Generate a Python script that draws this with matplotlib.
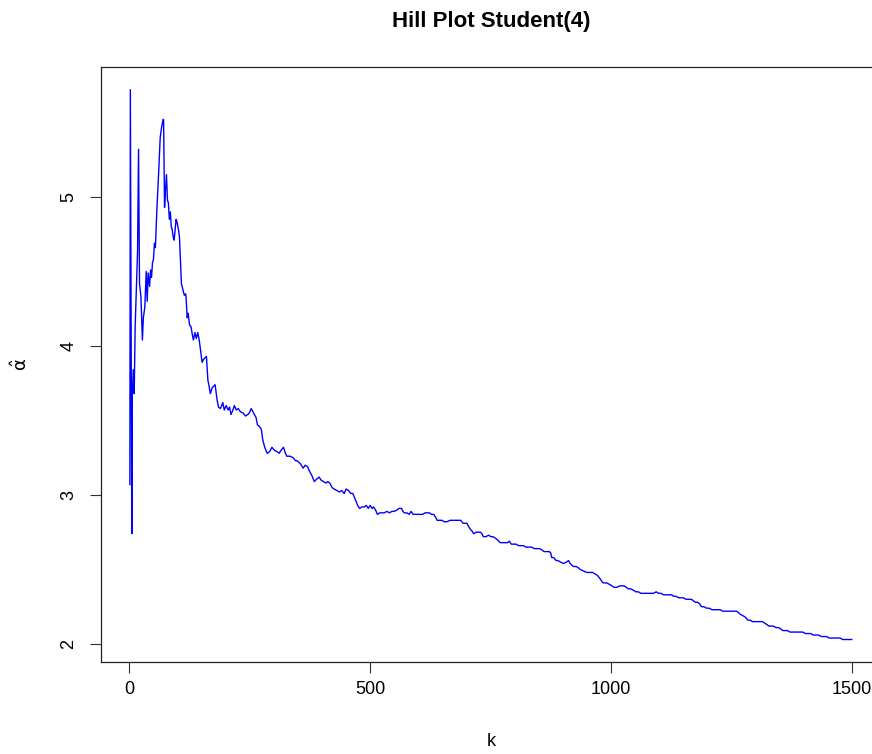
import matplotlib
matplotlib.use("Agg")
import matplotlib.pyplot as plt

# Hill plot of a Student(4) sample: k vs alpha-hat
k_vals = [
    1, 2, 5, 6, 8, 10, 12, 15, 17, 19, 21, 24, 27, 29, 32, 35, 37, 39, 42, 44,
    46, 48, 50, 52, 54, 57, 61, 64, 67, 70, 71, 73, 75, 77, 79, 81, 83, 85, 87, 89,
    91, 93, 95, 97, 99, 102, 104, 106, 108, 111, 114, 117, 118, 120, 122, 125, 128, 131, 133, 136,
    139, 142, 145, 147, 151, 154, 160, 163, 165, 168, 172, 178, 182, 185, 189, 194, 197, 201, 205, 208,
    211, 215, 218, 222, 226, 230, 236, 241, 246, 249, 253, 258, 263, 266, 270, 274, 277, 281, 286, 291,
    296, 301, 307, 311, 315, 320, 324, 327, 334, 340, 345, 348, 355, 361, 365, 370, 374, 379, 384, 390,
    394, 398, 403, 408, 412, 416, 421, 425, 431, 436, 441, 446, 450, 455, 460, 464, 469, 474, 478, 483,
    488, 492, 496, 500, 504, 507, 511, 515, 520, 524, 529, 535, 540, 545, 550, 556, 560, 565, 568, 571,
    576, 581, 585, 589, 594, 598, 604, 609, 614, 619, 623, 627, 632, 636, 639, 643, 649, 654, 659, 666,
    673, 680, 684, 688, 693, 697, 701, 704, 708, 711, 715, 720, 725, 729, 732, 735, 740, 746, 751, 755,
    760, 764, 770, 776, 780, 785, 789, 793, 798, 803, 808, 813, 818, 824, 830, 835, 841, 846, 852, 857,
    861, 867, 872, 875, 877, 881, 886, 890, 895, 901, 908, 912, 915, 922, 928, 933, 936, 943, 950, 957,
    962, 967, 972, 977, 981, 984, 991, 997, 1002, 1007, 1012, 1018, 1023, 1027, 1032, 1036, 1041, 1047, 1052, 1057,
    1062, 1067, 1073, 1078, 1083, 1088, 1094, 1099, 1104, 1109, 1115, 1120, 1126, 1130, 1135, 1141, 1146, 1150, 1156, 1162,
    1167, 1171, 1175, 1180, 1184, 1188, 1193, 1199, 1204, 1210, 1216, 1221, 1227, 1232, 1238, 1243, 1249, 1254, 1261, 1265,
    1268, 1274, 1279, 1282, 1284, 1289, 1294, 1299, 1304, 1310, 1315, 1319, 1324, 1328, 1332, 1337, 1343, 1348, 1353, 1357,
    1362, 1366, 1372, 1377, 1382, 1387, 1393, 1398, 1404, 1409, 1415, 1420, 1426, 1431, 1437, 1442, 1448, 1453, 1459, 1465,
    1470, 1476, 1481, 1486, 1492, 1500,
]
alpha_hat = [
    3.07, 5.72, 2.74, 3.66, 3.84, 3.68, 4.13, 4.43, 4.64, 5.32, 4.42, 4.33, 4.04, 4.19, 4.26, 4.50, 4.30, 4.49, 4.40, 4.51,
    4.46, 4.56, 4.58, 4.69, 4.66, 4.91, 5.18, 5.40, 5.47, 5.52, 5.52, 4.93, 5.05, 5.15, 4.98, 4.96, 4.85, 4.90, 4.80, 4.78,
    4.73, 4.71, 4.78, 4.85, 4.83, 4.78, 4.73, 4.58, 4.42, 4.38, 4.34, 4.35, 4.31, 4.19, 4.22, 4.14, 4.13, 4.07, 4.04, 4.09,
    4.05, 4.09, 4.04, 3.99, 3.89, 3.91, 3.93, 3.77, 3.74, 3.68, 3.72, 3.74, 3.64, 3.59, 3.58, 3.62, 3.57, 3.60, 3.57, 3.59,
    3.54, 3.57, 3.60, 3.57, 3.58, 3.56, 3.55, 3.53, 3.54, 3.55, 3.58, 3.55, 3.52, 3.47, 3.46, 3.44, 3.37, 3.32, 3.28, 3.29,
    3.32, 3.30, 3.29, 3.28, 3.30, 3.32, 3.28, 3.26, 3.26, 3.25, 3.23, 3.23, 3.21, 3.18, 3.20, 3.19, 3.16, 3.13, 3.09, 3.11,
    3.12, 3.10, 3.09, 3.08, 3.09, 3.08, 3.05, 3.04, 3.03, 3.02, 3.03, 3.01, 3.04, 3.03, 3.01, 3.01, 2.97, 2.93, 2.91, 2.92,
    2.92, 2.93, 2.91, 2.93, 2.91, 2.92, 2.90, 2.87, 2.88, 2.88, 2.88, 2.89, 2.88, 2.89, 2.89, 2.90, 2.91, 2.91, 2.89, 2.88,
    2.88, 2.87, 2.89, 2.87, 2.87, 2.87, 2.87, 2.87, 2.88, 2.88, 2.88, 2.87, 2.87, 2.85, 2.83, 2.83, 2.83, 2.82, 2.82, 2.83,
    2.83, 2.83, 2.83, 2.83, 2.81, 2.81, 2.81, 2.79, 2.77, 2.76, 2.74, 2.75, 2.75, 2.75, 2.74, 2.72, 2.72, 2.73, 2.72, 2.72,
    2.71, 2.70, 2.68, 2.68, 2.68, 2.68, 2.69, 2.67, 2.67, 2.67, 2.66, 2.66, 2.66, 2.65, 2.65, 2.65, 2.64, 2.64, 2.64, 2.63,
    2.62, 2.62, 2.62, 2.61, 2.58, 2.58, 2.56, 2.56, 2.55, 2.54, 2.55, 2.56, 2.54, 2.52, 2.52, 2.51, 2.50, 2.49, 2.48, 2.48,
    2.48, 2.47, 2.46, 2.44, 2.42, 2.41, 2.41, 2.40, 2.39, 2.38, 2.38, 2.39, 2.39, 2.39, 2.38, 2.37, 2.37, 2.36, 2.35, 2.35,
    2.34, 2.34, 2.34, 2.34, 2.34, 2.34, 2.35, 2.34, 2.34, 2.33, 2.33, 2.33, 2.33, 2.32, 2.32, 2.31, 2.31, 2.31, 2.30, 2.30,
    2.30, 2.29, 2.28, 2.28, 2.27, 2.25, 2.25, 2.24, 2.24, 2.23, 2.23, 2.23, 2.23, 2.22, 2.22, 2.22, 2.22, 2.22, 2.22, 2.21,
    2.20, 2.19, 2.18, 2.17, 2.16, 2.16, 2.15, 2.15, 2.15, 2.15, 2.15, 2.14, 2.13, 2.12, 2.12, 2.12, 2.11, 2.11, 2.10, 2.09,
    2.09, 2.09, 2.08, 2.08, 2.08, 2.08, 2.08, 2.08, 2.07, 2.07, 2.07, 2.06, 2.06, 2.06, 2.05, 2.05, 2.05, 2.04, 2.04, 2.04,
    2.04, 2.04, 2.03, 2.03, 2.03, 2.03,
]
x_ticks = [0, 500, 1000, 1500]
y_ticks = [2, 3, 4, 5]

plt.rcParams["font.family"] = ["Liberation Sans", "DejaVu Sans"]

fig = plt.figure(figsize=(8.72, 7.54), dpi=100)
# plot box runs a little past the right edge of the picture, as in the original
ax = fig.add_axes([0.1158, 0.1220, 0.8941, 0.7887])

ax.plot(k_vals, alpha_hat, color="#0000ff", linewidth=1.0)

ax.set_xlim(-59, 1560)
ax.set_ylim(1.879, 5.870)
ax.set_xticks(x_ticks)
ax.set_yticks(y_ticks)
ax.set_xticklabels([str(v) for v in x_ticks])
ax.set_yticklabels([str(v) for v in y_ticks], rotation=90, va="center")
ax.tick_params(axis="both", length=8, width=0.8, labelsize=13, color="#333333")
ax.tick_params(axis="x", pad=6)
ax.tick_params(axis="y", pad=9)
for sp in ax.spines.values():
    sp.set_linewidth(0.9)
    sp.set_color("#222222")

fig.text(491 / 872, 1 - 22 / 754, "Hill Plot Student(4)", ha="center", va="center",
         fontsize=16, fontweight="bold")
fig.text(491 / 872, 1 - 742 / 754, "k", ha="center", va="center", fontsize=13)
fig.text(21 / 872, 1 - 364 / 754, r"$\hat{\mathrm{\alpha}}$", ha="center", va="center",
         fontsize=13, rotation=90)

fig.savefig("out.png", dpi=100)
